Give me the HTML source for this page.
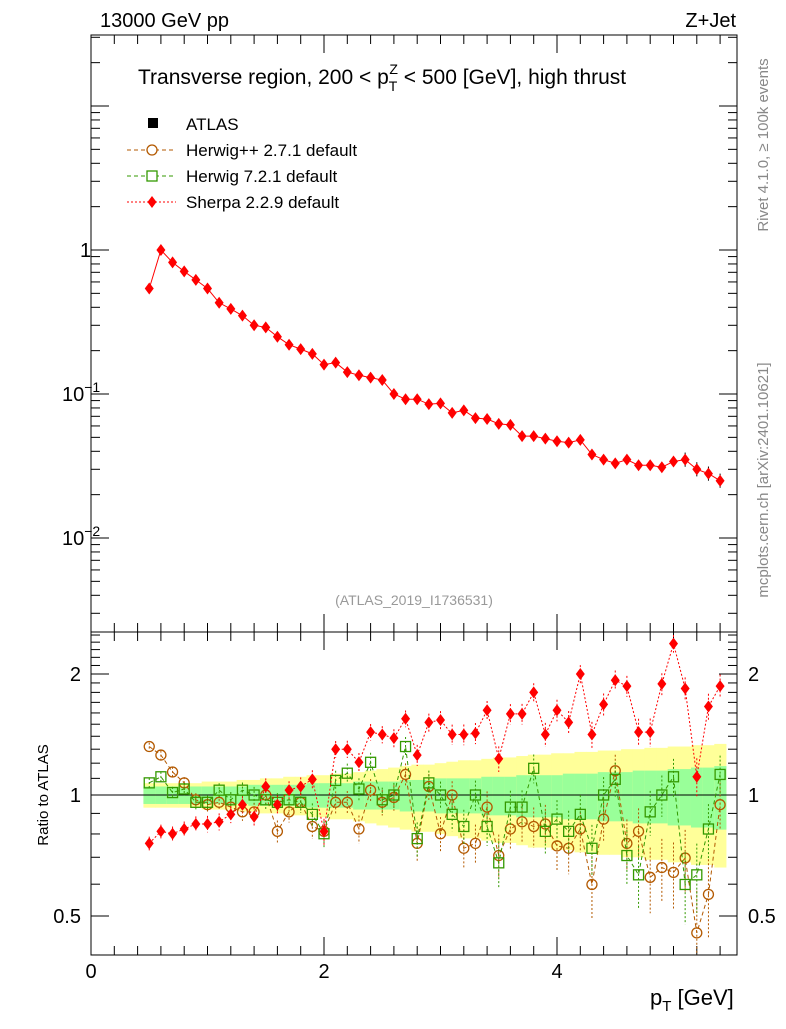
<!DOCTYPE html>
<html><head><meta charset="utf-8"><style>
body{margin:0;background:#fff}
svg{font-family:"Liberation Sans",sans-serif}
</style></head><body>
<svg id="c" width="786" height="1024" viewBox="0 0 786 1024"></svg>
<script>
const xs=[];for(let i=0;i<50;i++)xs.push(+(0.5+i*0.1).toFixed(2));
const sherpaMain=[0.54,1.0,0.82,0.71,0.62,0.54,0.43,0.39,0.35,0.30,0.29,0.25,0.22,0.205,0.19,0.16,0.165,0.142,0.135,0.13,0.125,0.10,0.092,0.092,0.085,0.086,0.074,0.077,0.068,0.067,0.062,0.061,0.051,0.051,0.049,0.047,0.046,0.048,0.038,0.035,0.033,0.035,0.032,0.032,0.031,0.034,0.035,0.030,0.028,0.025];
const sherpaRatio=[0.758,0.812,0.801,0.823,0.847,0.847,0.858,0.895,0.946,0.883,1.05,0.946,1.028,1.05,1.094,0.812,1.30,1.30,1.206,1.434,1.414,1.385,1.548,1.257,1.516,1.537,1.414,1.414,1.424,1.625,1.231,1.591,1.591,1.80,1.414,1.625,1.516,2.0,1.414,1.68,1.93,1.866,1.434,1.434,1.89,2.38,1.84,1.11,1.66,1.866];
const herwigppRatio=[1.32,1.257,1.141,1.072,0.973,0.946,0.959,0.933,0.908,0.908,1.0,0.812,0.908,0.959,0.835,0.812,0.959,0.959,0.823,1.028,0.959,0.986,1.125,0.758,1.05,0.801,1.0,0.737,0.758,0.933,0.707,0.823,0.858,0.835,0.847,0.747,0.737,0.823,0.599,0.871,1.149,0.758,0.812,0.624,0.66,0.642,0.697,0.454,0.566,0.946];
const herwig7Ratio=[1.072,1.11,1.014,1.035,0.959,0.959,1.028,0.973,1.028,1.0,0.973,0.959,0.973,0.959,0.895,0.801,1.087,1.133,1.035,1.206,0.973,1.0,1.32,0.779,1.072,1.0,0.895,0.835,1.0,0.835,0.678,0.933,0.933,1.165,0.812,0.871,0.812,0.895,0.737,1.0,1.094,0.707,0.633,0.908,1.0,1.11,0.599,0.633,0.823,1.125];
const greenBand=[0.05,0.05,0.05,0.05,0.05,0.05,0.05,0.05,0.05,0.06,0.06,0.06,0.06,0.06,0.07,0.07,0.07,0.07,0.08,0.08,0.08,0.08,0.09,0.09,0.09,0.1,0.1,0.1,0.1,0.11,0.11,0.11,0.12,0.12,0.12,0.12,0.13,0.13,0.13,0.14,0.14,0.14,0.15,0.15,0.15,0.16,0.16,0.17,0.17,0.18];
const yellowBand=[0.07,0.07,0.07,0.07,0.07,0.08,0.08,0.08,0.09,0.09,0.1,0.1,0.11,0.11,0.12,0.12,0.13,0.13,0.14,0.15,0.16,0.17,0.18,0.19,0.19,0.2,0.21,0.22,0.22,0.23,0.24,0.24,0.25,0.26,0.26,0.27,0.27,0.28,0.28,0.29,0.29,0.3,0.3,0.31,0.31,0.32,0.32,0.33,0.33,0.34];
const xTicks=[0,2,4];
const NS="http://www.w3.org/2000/svg";const svg=document.getElementById('c');
function el(t,a,p){const e=document.createElementNS(NS,t);for(const k in a)e.setAttribute(k,a[k]);(p||svg).appendChild(e);return e;}
const L=91,R=737,T=35,M=632,B=955;
const X=v=>L+v*116.5;
const Ym=v=>250-144*Math.log10(v);
const Yr=v=>795-402*Math.log10(v);
const hw=0.05;
for(let i=0;i<xs.length;i++){
 const r=el('rect',{x:X(xs[i]-hw),y:Yr(1+yellowBand[i]),width:116.5*0.1+0.5,height:Yr(1-yellowBand[i])-Yr(1+yellowBand[i]),fill:'#ffff99'});
 
 const g=el('rect',{x:X(xs[i]-hw),y:Yr(1+greenBand[i]),width:116.5*0.1+0.5,height:Yr(1-greenBand[i])-Yr(1+greenBand[i]),fill:'#99ff99'});
 
}
el('line',{x1:L,x2:R,y1:Yr(1),y2:Yr(1),stroke:'#000'});
el('rect',{x:L,y:T,width:R-L,height:M-T,fill:'none',stroke:'#000'});
el('rect',{x:L,y:M,width:R-L,height:B-M,fill:'none',stroke:'#000'});
for(let d=-3;d<=1;d++)for(let m=1;m<10;m++){const v=m*Math.pow(10,d);const y=Ym(v);if(y<T||y>M)continue;const len=m==1?18:9;
 el('line',{x1:L,x2:L+len,y1:y,y2:y,stroke:'#000'});el('line',{x1:R,x2:R-len,y1:y,y2:y,stroke:'#000'});}
[[1,'1'],[0.1,'10'],[0.01,'10']].forEach((t,i)=>{const y=Ym(t[0]);const tx=el('text',{x:i?62:80,y:y+7,'font-size':20});tx.textContent=t[1];
 if(i){const s=el('tspan',{dy:-9,'font-size':14},tx);s.textContent=i==1?'−1':'−2';}
 });
for(let k=4;k<=25;k++){const v=k/10;const y=Yr(v);if(y<M||y>B)continue;const big=(k==5||k==10||k==20);const len=big?18:9;
 el('line',{x1:L,x2:L+len,y1:y,y2:y,stroke:'#000'});el('line',{x1:R,x2:R-len,y1:y,y2:y,stroke:'#000'});}
[[2,'2'],[1,'1'],[0.5,'0.5']].forEach(t=>{const y=Yr(t[0]);
 let a=el('text',{x:81,y:y+7,'font-size':20,'text-anchor':'end'});a.textContent=t[1];
 let b=el('text',{x:748,y:y+7,'font-size':20});b.textContent=t[1];});
for(let v=0;v<=5.5;v+=0.2){const x=X(v);const big=Math.abs(v-Math.round(v/2)*2)<0.01;const len=big?18:9;
 el('line',{x1:x,x2:x,y1:M,y2:M-len,stroke:'#000'});el('line',{x1:x,x2:x,y1:M,y2:M+len,stroke:'#000'});
 el('line',{x1:x,x2:x,y1:B,y2:B-len,stroke:'#000'});el('line',{x1:x,x2:x,y1:T,y2:T+len,stroke:'#000'});}
xTicks.forEach(v=>{const t=el('text',{x:X(v),y:978,'font-size':20,'text-anchor':'middle'});t.textContent=v;});
el('polyline',{points:xs.map((x,i)=>X(x)+','+Ym(sherpaMain[i])).join(' '),fill:'none',stroke:'#f00','stroke-width':1});
function diamond(x,y,col,name){const p=el('polygon',{points:`${x},${y-6} ${x+4.5},${y} ${x},${y+6} ${x-4.5},${y}`,fill:col});}
xs.forEach((x,i)=>{if(i>45){el('line',{x1:X(x),x2:X(x),y1:Ym(sherpaMain[i]*1.12),y2:Ym(sherpaMain[i]/1.12),stroke:'#000'});}
 diamond(X(x),Ym(sherpaMain[i]),'#f00','sherpa-point');});
const clipR=el('clipPath',{id:'cr'});el('rect',{x:L,y:M,width:R-L,height:B-M},clipR);
const gR=el('g',{'clip-path':'url(#cr)'});
function series(vals,col,dash,marker,name){
 el('polyline',{points:xs.map((x,i)=>X(x)+','+Yr(vals[i])).join(' '),fill:'none',stroke:col,'stroke-dasharray':dash},gR);
 xs.forEach((x,i)=>{const y=Yr(vals[i]);const e=0.03+i*0.002;
  el('line',{x1:X(x),x2:X(x),y1:Yr(vals[i]+e),y2:Yr(vals[i]-e),stroke:col,'stroke-dasharray':'2,2'},gR);
  let m;
  if(marker=='c')m=el('circle',{cx:X(x),cy:y,r:5,fill:'none',stroke:col,'stroke-width':1.3},gR);
  else if(marker=='s')m=el('rect',{x:X(x)-5,y:y-5,width:10,height:10,fill:'none',stroke:col,'stroke-width':1.3},gR);
  else m=el('polygon',{points:`${X(x)},${y-6} ${X(x)+4.5},${y} ${X(x)},${y+6} ${X(x)-4.5},${y}`,fill:col},gR);
  });
}
series(herwigppRatio,'#b35900','4,3','c','herwigpp-ratio-point');
series(herwig7Ratio,'#339900','4,3','s','herwig7-ratio-point');
series(sherpaRatio,'#f00','2,2','d','sherpa-ratio-point');
function txt(x,y,s,size,name,extra){const t=el('text',Object.assign({x:x,y:y,'font-size':size},extra||{}));t.textContent=s;return t;}
txt(100,27,'13000 GeV pp',20,'energy-label');
txt(736,27,'Z+Jet',20,'process-label',{'text-anchor':'end'});
const ti=txt(138,84,'Transverse region, 200 < p',21,'plot-title');
const s1=el('tspan',{dy:7,'font-size':14},ti);s1.textContent='T';
const s2=el('tspan',{dx:-8,dy:-17,'font-size':14},ti);s2.textContent='Z';
const s3=el('tspan',{dy:10},ti);s3.textContent=' < 500 [GeV], high thrust';
el('rect',{x:148,y:118,width:10,height:10,fill:'#000'});
txt(186,130,'ATLAS',17,'legend-atlas');
el('line',{x1:127,x2:176,y1:150,y2:150,stroke:'#b35900','stroke-dasharray':'4,3'});el('circle',{cx:152,cy:150,r:5,fill:'#fff',stroke:'#b35900','stroke-width':1.3});
txt(186,156,'Herwig++ 2.7.1 default',17,'legend-herwigpp');
el('line',{x1:127,x2:176,y1:176,y2:176,stroke:'#339900','stroke-dasharray':'4,3'});el('rect',{x:147,y:171,width:10,height:10,fill:'#fff',stroke:'#339900','stroke-width':1.3});
txt(186,182,'Herwig 7.2.1 default',17,'legend-herwig7');
el('line',{x1:127,x2:176,y1:202,y2:202,stroke:'#f00','stroke-dasharray':'2,2'});diamond(152,202,'#f00','legend-sherpa-marker');
txt(186,208,'Sherpa 2.2.9 default',17,'legend-sherpa');
txt(414,605,'(ATLAS_2019_I1736531)',14,'analysis-id',{'text-anchor':'middle',fill:'#999'});
txt(48,795,'Ratio to ATLAS',15,'ratio-y-axis-title',{'text-anchor':'middle',transform:'rotate(-90 48 795)'});
const xt=txt(650,1005,'p',22,'x-axis-title');const xs1=el('tspan',{dy:6,'font-size':15},xt);xs1.textContent='T';const xs2=el('tspan',{dy:-6},xt);xs2.textContent=' [GeV]';
txt(768,145,'Rivet 4.1.0, ≥ 100k events',15,'rivet-label',{'text-anchor':'middle',fill:'#888',transform:'rotate(-90 768 145)'});
txt(768,480,'mcplots.cern.ch [arXiv:2401.10621]',15,'mcplots-label',{'text-anchor':'middle',fill:'#888',transform:'rotate(-90 768 480)'});
</script>
</body></html>
